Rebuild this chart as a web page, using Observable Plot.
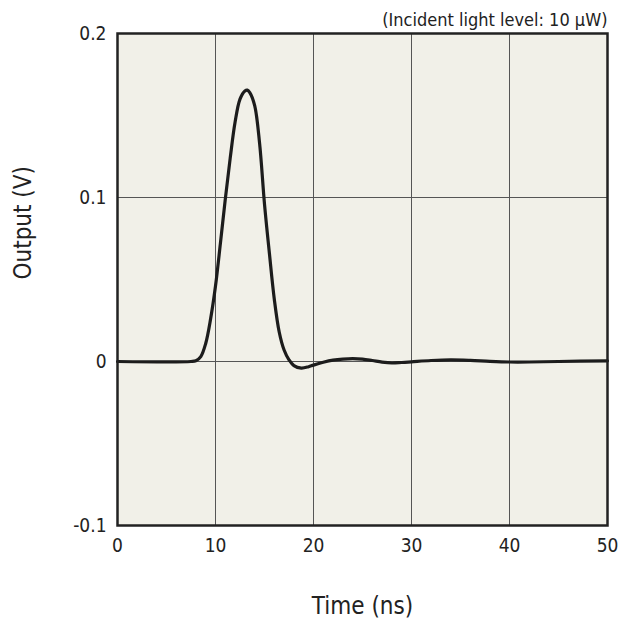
<!DOCTYPE html>
<html>
<head>
<meta charset="utf-8">
<script src="https://cdn.jsdelivr.net/npm/d3@7"></script>
<script src="https://cdn.jsdelivr.net/npm/@observablehq/plot@0.6"></script>
<style>
  html, body { margin: 0; padding: 0; background: #ffffff; }
</style>
</head>
<body>
<div id="chart"></div>
<script>
const title = "(Incident light level: 10 μW)";
const xLabel = "Time (ns)";
const yLabel = "Output (V)";
const xTicks = [0, 10, 20, 30, 40, 50];
const yTicks = [-0.1, 0, 0.1, 0.2];

const time = [0, 7.5, 8.0, 8.5, 9.0, 9.5, 10.0, 10.5, 11.0, 11.5, 12.0, 12.5, 13.0, 13.25, 13.5, 14.0, 14.5, 15.0, 15.5, 16.0, 16.5, 17.0, 17.5, 18.0, 18.75, 19.5, 20, 21, 22, 23, 24, 25, 26, 27, 28, 29, 30, 32, 34, 36, 38, 40, 42, 45, 50];
const output = [0, 0, 0.0005, 0.003, 0.011, 0.026, 0.046, 0.072, 0.099, 0.124, 0.146, 0.160, 0.165, 0.1655, 0.164, 0.156, 0.133, 0.096, 0.066, 0.038, 0.018, 0.007, 0.001, -0.0025, -0.004, -0.0032, -0.0022, -0.0005, 0.0008, 0.0015, 0.0018, 0.0015, 0.0006, -0.0004, -0.0009, -0.0006, -0.0002, 0.0006, 0.001, 0.0007, 0.0001, -0.0003, -0.0003, 0.0, 0.0004];

const data = time.map((t, i) => ({t, v: output[i]}));

const font = '"DejaVu Sans Condensed", "DejaVu Sans", sans-serif';

const chart = Plot.plot({
  width: 624,
  height: 624,
  marginLeft: 117,
  marginRight: 17,
  marginTop: 33,
  marginBottom: 99,
  style: {fontFamily: font, fontSize: "19px", color: "#222", background: "#ffffff"},
  x: {domain: [0, 50]},
  y: {domain: [-0.1, 0.2]},
  marks: [
    Plot.frame({fill: "#f1f0e8", stroke: null}),
    Plot.gridX(xTicks, {stroke: "#555", strokeOpacity: 1, strokeWidth: 1}),
    Plot.gridY(yTicks, {stroke: "#555", strokeOpacity: 1, strokeWidth: 1}),
    Plot.line(data, {x: "t", y: "v", stroke: "#1c1c1c", strokeWidth: 3.2, curve: "catmull-rom"}),
    Plot.frame({stroke: "#222", strokeWidth: 2.5}),
    Plot.axisX({ticks: xTicks, tickSize: 0, tickPadding: 13, label: null, fontSize: 19, tickFormat: d => String(d)}),
    Plot.axisY({ticks: yTicks, tickSize: 0, tickPadding: 11, label: null, fontSize: 19, tickFormat: d => String(d)}),
    Plot.text([title], {frameAnchor: "top-right", lineAnchor: "middle", dy: -13, fontSize: 18, fill: "#222", textAnchor: "end"}),
    Plot.text([xLabel], {frameAnchor: "bottom", lineAnchor: "middle", dy: 81, fontSize: 24, fill: "#222"}),
    Plot.text([yLabel], {frameAnchor: "left", dx: -94, rotate: -90, fontSize: 24, fill: "#222"})
  ]
});
document.getElementById("chart").appendChild(chart);
</script>
</body>
</html>
